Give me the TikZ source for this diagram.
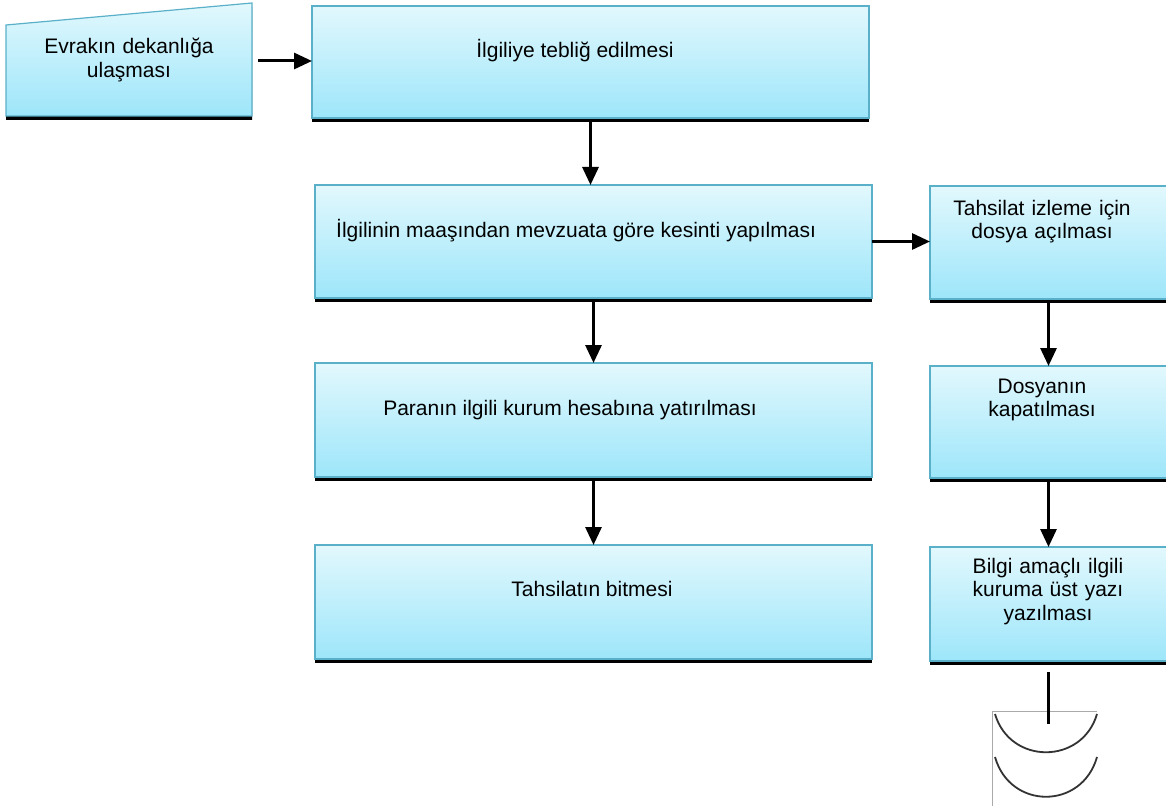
\documentclass[tikz,border=0pt]{standalone}
\usepackage{fontspec}
\setmainfont{Liberation Sans}
\usetikzlibrary{arrows.meta,shadows}
\definecolor{boxtop}{HTML}{E2F8FD}
\definecolor{boxbot}{HTML}{9DE6FA}
\definecolor{boxedge}{HTML}{5AB0C8}
\definecolor{symframe}{HTML}{AAAAAA}
\tikzset{
  procbox/.style={rectangle, draw=boxedge, line width=1.2pt, top color=boxtop, bottom color=boxbot,
    inner sep=0pt, outer sep=0pt, general shadow={fill=black, shadow yshift=-4pt}},
  lbl/.style={font=\fontsize{21}{23.5}\selectfont, inner sep=0pt, anchor=base, align=center},
  arr/.style={line width=3pt, -{Triangle[length=18pt,width=16pt]}},
  conn/.style={line width=3pt},
  arcline/.style={line width=1.8pt, draw=black!80},
}
\begin{document}
\begin{tikzpicture}[x=1pt,y=-1pt]
\useasboundingbox (0,0) rectangle (1166,805);

% manual input shape
\path[draw=boxedge, line width=1.2pt, top color=boxtop, bottom color=boxbot,
  general shadow={fill=black, shadow yshift=-4pt}]
  (6,25) -- (252,3) -- (252,116) -- (6,116) -- cycle;
\coordinate (trapout) at (258,61);
\node[lbl, text width=230pt] (t1) at (129,54) {Evrakın dekanlığa\\ulaşması};

% process boxes
\node[procbox, minimum width=557pt, minimum height=112pt] (b2) at (590.5,62) {};
\node[procbox, minimum width=557pt, minimum height=113pt] (b3) at (593.5,241.5) {};
\node[procbox, minimum width=237pt, minimum height=113pt] (b4) at (1048.5,242.5) {};
\node[procbox, minimum width=557pt, minimum height=114pt] (b5) at (593.5,420) {};
\node[procbox, minimum width=237pt, minimum height=112pt] (b6) at (1048.5,422) {};
\node[procbox, minimum width=557pt, minimum height=114pt] (b7) at (593.5,602) {};
\node[procbox, minimum width=237pt, minimum height=114pt] (b8) at (1048.5,604) {};

% texts
\node[lbl] (t2) at (575,58) {İlgiliye tebliğ edilmesi};
\node[lbl, anchor=base west] (t3) at (336,237) {İlgilinin maaşından mevzuata göre kesinti yapılması};
\node[lbl, text width=220pt] (t4) at (1042,215) {Tahsilat izleme için\\dosya açılması};
\node[lbl] (t5) at (570,415) {Paranın ilgili kurum hesabına yatırılması};
\node[lbl, text width=220pt] (t6) at (1042,393) {Dosyanın\\kapatılması};
\node[lbl] (t7) at (592,596) {Tahsilatın bitmesi};
\node[lbl, text width=220pt] (t8) at (1048,573) {Bilgi amaçlı ilgili\\kuruma üst yazı\\yazılması};

% off-page connector symbol
\node[rectangle, minimum width=104pt, minimum height=100pt, inner sep=0pt] (sym) at (1045,762) {};
\draw[symframe, line width=1pt] (sym.south west) -- (sym.north west) -- (sym.north east);
\draw[arcline] (995,714) .. controls (1010,765) and (1082,765) .. (1097,714);
\draw[arcline] (995,757) .. controls (1010,810) and (1082,810) .. (1097,757);
\coordinate (symin) at (1048,724);

% connectors
\draw[arr] (trapout) -- (trapout -| b2.west);
\draw[arr] ([yshift=-4pt]b2.south) -- (b2.south |- b3.north);
\draw[arr] ([yshift=-4pt]b3.south) -- (b3.south |- b5.north);
\draw[arr] ([yshift=-4pt]b5.south) -- (b5.south |- b7.north);
\draw[arr] (b3.east) -- (b3.east -| b4.west);
\draw[arr] ([yshift=-4pt]b4.south) -- (b4.south |- b6.north);
\draw[arr] ([yshift=-4pt]b6.south) -- (b6.south |- b8.north);
\draw[conn] ([yshift=-11pt]b8.south) -- (b8.south |- symin);
\end{tikzpicture}
\end{document}
